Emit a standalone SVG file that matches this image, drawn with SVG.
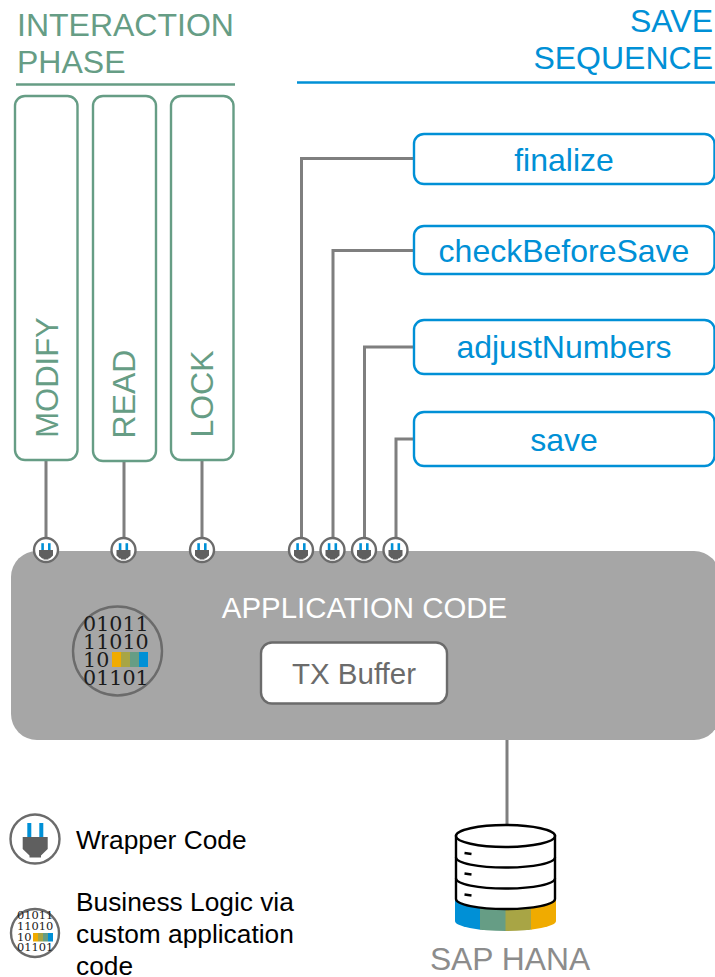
<svg xmlns="http://www.w3.org/2000/svg" xmlns:xlink="http://www.w3.org/1999/xlink" width="715" height="977" viewBox="0 0 715 977">
<style>
text{font-family:"Liberation Sans",Arial,sans-serif}
.h{font-size:32px}
.g{fill:#669d85}
.b{fill:#0090d6}
.ph{fill:#fff;stroke:#669d85;stroke-width:2.4}
.sv{fill:#fff;stroke:#0090d6;stroke-width:2.4}
.cn{fill:none;stroke:#7f7f7f;stroke-width:3}
.lbl{font-size:32px;text-anchor:middle}
.k{font-size:26.3px;fill:#000}
.bin{font-family:"DejaVu Serif",serif;fill:#1a1a1a}
.cyl{fill:#fff;stroke:#000;stroke-width:2.4}
</style>
<defs>
<g id="plug">
<circle cx="0" cy="0" r="12" fill="#fff" stroke="#6b6b6b" stroke-width="2.4"/>
<rect x="-4.700" y="-6.800" width="2.600" height="6.800" fill="#0090d6"/>
<rect x="2" y="-6.800" width="2.600" height="6.800" fill="#0090d6"/>
<path d="M-7 0H7V5.500L3.800 8.500H2.500V9.500H-2.500V8.500H-3.800L-7 5.500Z" fill="#5f5f5f"/>
</g>
<clipPath id="band"><path d="M455 890V921A50.500 10 0 0 0 556 921V890Z"/></clipPath>
</defs>
<g id="interaction-phase-title">
<text class="h g" x="17" y="36">INTERACTION</text>
<text class="h g" x="17" y="73">PHASE</text>
<path d="M16 84.500H235" stroke="#669d85" stroke-width="2.400" fill="none"/>
</g>
<g id="save-sequence-title">
<text class="h b" x="713" y="32" text-anchor="end">SAVE</text>
<text class="h b" x="713" y="69" text-anchor="end">SEQUENCE</text>
<path d="M297 82.500H715" stroke="#0090d6" stroke-width="2.400" fill="none"/>
</g>
<g id="connectors">
<path class="cn" d="M46 460V540M124 460V540M202 460V540"/>
<path class="cn" d="M414 158.500H301.500V540M414 250.500H333V540M414 347H364.500V540M414 439H396V540"/>
<path class="cn" d="M507 740V826"/>
</g>
<g id="application-code">
<rect x="11" y="551" width="709" height="189" rx="26" fill="#a6a6a6"/>
<text x="364.500" y="618" font-size="29.400" fill="#fff" text-anchor="middle">APPLICATION CODE</text>
</g>
<g id="modify"><rect class="ph" x="15" y="96" width="62.500" height="364" rx="10"/><text class="lbl g" style="font-size:31px" transform="translate(58 377.500) rotate(-90)">MODIFY</text></g>
<g id="read"><rect class="ph" x="93" y="96" width="63" height="365" rx="10"/><text class="lbl g" transform="translate(135 394) rotate(-90)">READ</text></g>
<g id="lock"><rect class="ph" x="171" y="96" width="62.500" height="364" rx="10"/><text class="lbl g" transform="translate(213 394) rotate(-90)">LOCK</text></g>
<g id="finalize"><rect class="sv" x="414" y="134" width="300.500" height="50" rx="10"/><text class="lbl b" x="564" y="171">finalize</text></g>
<g id="checkBeforeSave"><rect class="sv" x="414" y="226" width="300.500" height="48" rx="10"/><text class="lbl b" x="564" y="262">checkBeforeSave</text></g>
<g id="adjustNumbers"><rect class="sv" x="414" y="320" width="300.500" height="54" rx="10"/><text class="lbl b" x="564" y="358">adjustNumbers</text></g>
<g id="save"><rect class="sv" x="414" y="412" width="300.500" height="54" rx="10"/><text class="lbl b" x="564" y="451">save</text></g>
<g id="wrappers">
<use xlink:href="#plug" href="#plug" x="46" y="550"/>
<use xlink:href="#plug" href="#plug" x="123.500" y="550"/>
<use xlink:href="#plug" href="#plug" x="202" y="550"/>
<use xlink:href="#plug" href="#plug" x="301" y="550"/>
<use xlink:href="#plug" href="#plug" x="332.500" y="550"/>
<use xlink:href="#plug" href="#plug" x="364" y="550"/>
<use xlink:href="#plug" href="#plug" x="395.500" y="550"/>
</g>
<g id="business-logic-icon">
<circle cx="117.500" cy="651" r="44.500" fill="none" stroke="#6b6b6b" stroke-width="2.400"/>
<text class="bin" font-size="19.500" transform="translate(83 0) scale(1.06 1)"><tspan x="0" y="631.500">01011</tspan><tspan x="0" y="649">11010</tspan><tspan x="0" y="667">10</tspan><tspan x="0" y="685">01101</tspan></text>
<rect x="112" y="652" width="9.500" height="15" fill="#f0ab00"/>
<rect x="121" y="652" width="9.500" height="15" fill="#a8a545"/>
<rect x="130" y="652" width="9.500" height="15" fill="#669d85"/>
<rect x="139" y="652" width="9" height="15" fill="#0090d6"/>
</g>
<g id="tx-buffer">
<rect x="261" y="642.500" width="186" height="61" rx="11" fill="#fff" stroke="#6b6b6b" stroke-width="2.400"/>
<text x="354" y="684" font-size="29.500" fill="#6b6b6b" text-anchor="middle">TX Buffer</text>
</g>
<g id="sap-hana">
<g clip-path="url(#band)">
<rect x="455" y="890" width="25.500" height="42" fill="#0090d6"/>
<rect x="480" y="890" width="26" height="42" fill="#669d85"/>
<rect x="505.500" y="890" width="26" height="42" fill="#a8a545"/>
<rect x="531" y="890" width="25" height="42" fill="#f0ab00"/>
</g>
<path class="cyl" d="M456 836V899A49.500 10 0 0 0 555 899V836Z"/>
<ellipse class="cyl" cx="505.500" cy="836" rx="49.500" ry="11"/>
<path d="M456 857.500A49.500 10 0 0 0 555 857.500M456 878.500A49.500 10 0 0 0 555 878.500" fill="none" stroke="#000" stroke-width="2.400"/>
<path d="M464.500 853L471.500 854M464.500 873.500L471.500 874.500M464.500 894.500L471.500 895.500" stroke="#000" stroke-width="2.400" fill="none"/>
<text x="510" y="970" font-size="31.800" fill="#8c8c8c" text-anchor="middle">SAP HANA</text>
</g>
<g id="legend-wrapper">
<circle cx="35" cy="839" r="24.500" fill="#fff" stroke="#6b6b6b" stroke-width="2.400"/>
<rect x="27.300" y="823" width="4" height="14" fill="#0090d6"/>
<rect x="39.300" y="823" width="4" height="14" fill="#0090d6"/>
<path d="M22.700 837H47.700V849L41 855.500V857.500H29.500V855.500L22.700 849Z" fill="#5f5f5f"/>
<text class="k" x="76" y="849">Wrapper Code</text>
</g>
<g id="legend-business-logic">
<circle cx="35" cy="933" r="24" fill="#fff" stroke="#6b6b6b" stroke-width="2.400"/>
<text class="bin" font-size="10.800" transform="translate(17 0) scale(1.06 1)"><tspan x="0" y="919">01011</tspan><tspan x="0" y="930.500">11010</tspan><tspan x="0" y="941.500">10</tspan><tspan x="0" y="951.500">01101</tspan></text>
<rect x="33" y="933" width="5" height="8.500" fill="#f0ab00"/>
<rect x="38" y="933" width="5" height="8.500" fill="#a8a545"/>
<rect x="43" y="933" width="5" height="8.500" fill="#669d85"/>
<rect x="48" y="933" width="5" height="8.500" fill="#0090d6"/>
<text class="k" x="76" y="911">Business Logic via</text>
<text class="k" x="76" y="943">custom application</text>
<text class="k" x="76" y="975">code</text>
</g>
</svg>
